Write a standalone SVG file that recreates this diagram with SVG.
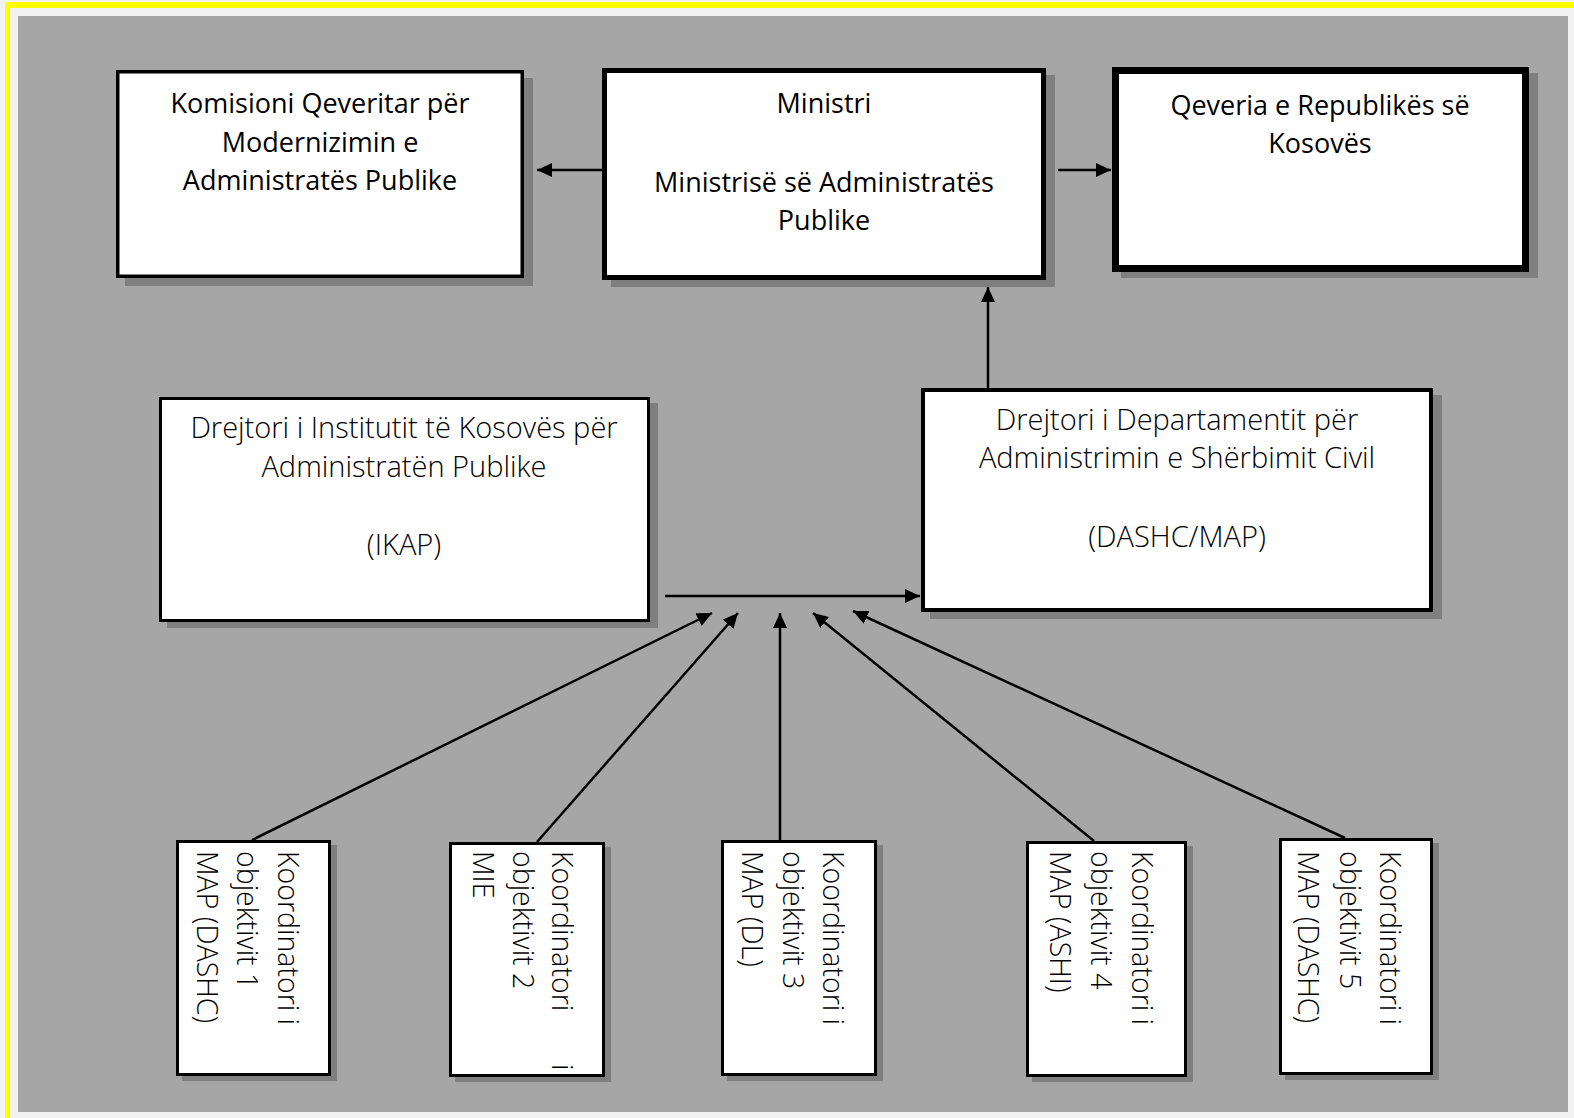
<svg xmlns="http://www.w3.org/2000/svg" width="1574" height="1118" viewBox="0 0 1574 1118">
<defs>
<style>
.box{fill:#ffffff;stroke:#000000}
.shadow{fill:#7f7f7f}
.t{font-family:"Open Sans","Noto Sans","DejaVu Sans",sans-serif;fill:#000000}
.top{font-size:27px;font-weight:400;text-anchor:middle}
.mid{font-size:29px;font-weight:300;text-anchor:middle}
.vert{font-size:28.5px;font-weight:300}
.conn{stroke:#000000;stroke-width:2.5;fill:none;marker-end:url(#arrow)}
</style>
<marker id="arrow" markerUnits="userSpaceOnUse" markerWidth="16" markerHeight="14" refX="15" refY="7" orient="auto">
<path d="M0,0 L15,7 L0,14 Z" fill="#000000"/>
</marker>
</defs>

<rect x="0" y="0" width="1574" height="1118" fill="#f2f2f2"/>
<rect x="5" y="2" width="1569" height="6" fill="#ffff00"/>
<rect x="5" y="2" width="5" height="1116" fill="#ffff00"/>
<rect x="18" y="16" width="1550" height="1096" fill="#a6a6a6"/>

<g id="connectors">
<line class="conn" x1="602" y1="170" x2="537" y2="170"/>
<line class="conn" x1="1058" y1="170" x2="1111" y2="170"/>
<line class="conn" x1="988" y1="388" x2="988" y2="287"/>
<line class="conn" x1="665" y1="596" x2="920" y2="596"/>
<line class="conn" x1="252" y1="840" x2="712" y2="613"/>
<line class="conn" x1="537" y1="842" x2="738" y2="613"/>
<line class="conn" x1="780" y1="840" x2="780" y2="613"/>
<line class="conn" x1="1094" y1="841" x2="813" y2="613"/>
<line class="conn" x1="1345" y1="838" x2="853" y2="611"/>
</g>

<g id="komisioni">
<rect class="shadow" x="125" y="78" width="408" height="208"/>
<rect class="box" x="117.75" y="71.75" width="404.5" height="204.5" stroke-width="3.5"/>
<text class="t top" x="320" y="113">Komisioni Qeveritar për</text>
<text class="t top" x="320" y="152">Modernizimin e</text>
<text class="t top" x="320" y="190">Administratës Publike</text>
</g>

<g id="ministri">
<rect class="shadow" x="611" y="75" width="444" height="212"/>
<rect class="box" x="604.5" y="70.5" width="439" height="207" stroke-width="5"/>
<text class="t top" x="824" y="113">Ministri</text>
<text class="t top" x="824" y="192">Ministrisë së Administratës</text>
<text class="t top" x="824" y="230">Publike</text>
</g>

<g id="qeveria">
<rect class="shadow" x="1121" y="73" width="417" height="205"/>
<rect class="box" x="1115.5" y="70.5" width="410" height="198" stroke-width="7"/>
<text class="t top" x="1320" y="115">Qeveria e Republikës së</text>
<text class="t top" x="1320" y="153">Kosovës</text>
</g>

<g id="ikap">
<rect class="shadow" x="167" y="403" width="491" height="225"/>
<rect class="box" x="160.5" y="398.5" width="488" height="222" stroke-width="3"/>
<text class="t mid" x="404" y="438">Drejtori i Institutit të Kosovës për</text>
<text class="t mid" x="404" y="477">Administratën Publike</text>
<text class="t mid" x="404" y="555">(IKAP)</text>
</g>

<g id="dashc">
<rect class="shadow" x="930" y="395" width="512" height="224"/>
<rect class="box" x="923" y="390" width="508" height="220" stroke-width="4"/>
<text class="t mid" x="1177" y="430">Drejtori i Departamentit për</text>
<text class="t mid" x="1177" y="468">Administrimin e Shërbimit Civil</text>
<text class="t mid" x="1177" y="547">(DASHC/MAP)</text>
</g>

<g id="koord1">
<rect class="shadow" x="182" y="845" width="155" height="236"/>
<rect class="box" x="177.5" y="841.5" width="152" height="233" stroke-width="3"/>
<g transform="translate(278,851) rotate(90)">
<text class="t vert" x="0" y="0">Koordinatori i</text>
<text class="t vert" x="0" y="41">objektivit 1</text>
<text class="t vert" x="0" y="81">MAP (DASHC)</text>
</g>
</g>

<g id="koord2">
<rect class="shadow" x="455" y="847" width="156" height="235"/>
<rect class="box" x="450.5" y="843.5" width="153" height="232" stroke-width="3"/>
<g transform="translate(552,851) rotate(90)">
<text class="t vert" x="0" y="0">Koordinatori<tspan x="213">i</tspan></text>
<text class="t vert" x="0" y="39">objektivit 2</text>
<text class="t vert" x="0" y="79">MIE</text>
</g>
</g>

<g id="koord3">
<rect class="shadow" x="727" y="845" width="156" height="236"/>
<rect class="box" x="722.5" y="841.5" width="153" height="233" stroke-width="3"/>
<g transform="translate(823,851) rotate(90)">
<text class="t vert" x="0" y="0">Koordinatori i</text>
<text class="t vert" x="0" y="40">objektivit 3</text>
<text class="t vert" x="0" y="81">MAP (DL)</text>
</g>
</g>

<g id="koord4">
<rect class="shadow" x="1032" y="846" width="161" height="236"/>
<rect class="box" x="1027.5" y="842.5" width="158" height="233" stroke-width="3"/>
<g transform="translate(1132,851) rotate(90)">
<text class="t vert" x="0" y="0">Koordinatori i</text>
<text class="t vert" x="0" y="41">objektivit 4</text>
<text class="t vert" x="0" y="82">MAP (ASHI)</text>
</g>
</g>

<g id="koord5">
<rect class="shadow" x="1285" y="843" width="154" height="237"/>
<rect class="box" x="1280.5" y="839.5" width="151" height="234" stroke-width="3"/>
<g transform="translate(1380,851) rotate(90)">
<text class="t vert" x="0" y="0">Koordinatori i</text>
<text class="t vert" x="0" y="40">objektivit 5</text>
<text class="t vert" x="0" y="82">MAP (DASHC)</text>
</g>
</g>
</svg>
